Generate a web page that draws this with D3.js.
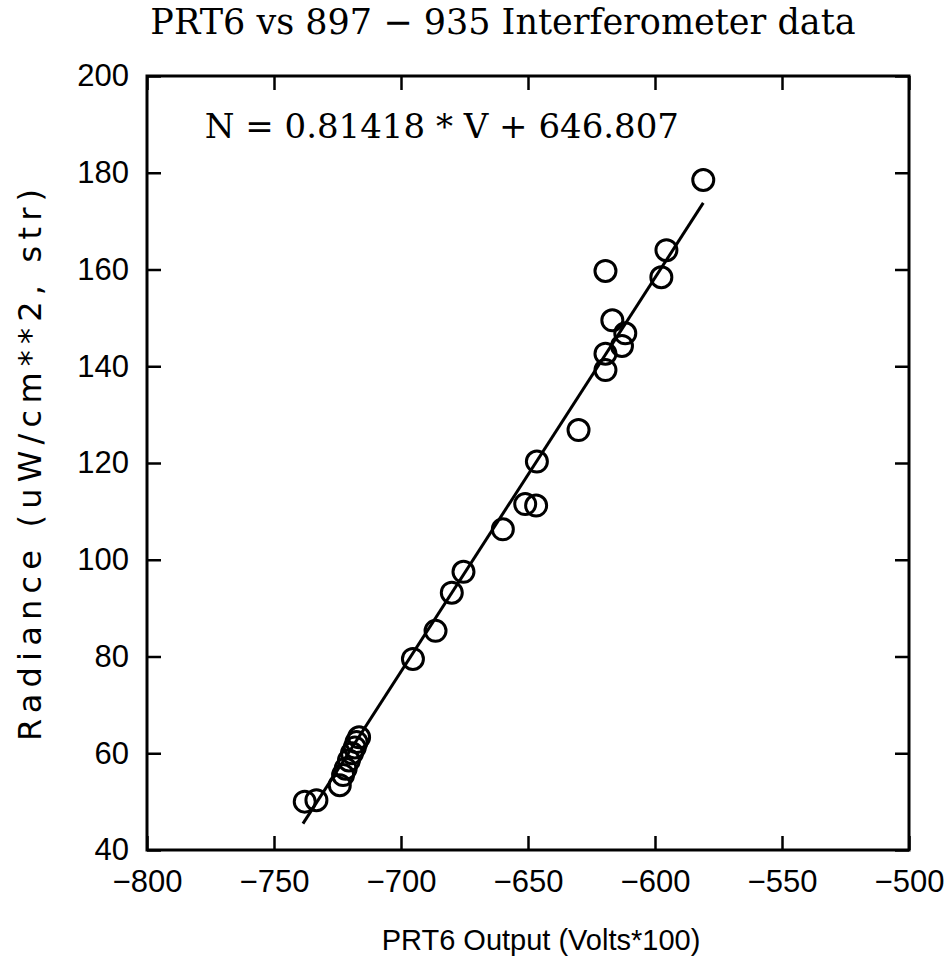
<!DOCTYPE html>
<html>
<head>
<meta charset="utf-8">
<script src="https://cdn.jsdelivr.net/npm/d3@7"></script>
<style>
  body { margin: 0; background: #fff; }
  .tick text { font-family: "Liberation Sans", Arial, sans-serif; font-size: 31px; fill: #000; }
</style>
</head>
<body>
<svg width="949" height="965"></svg>
<script>
// PRT6 output (Volts*100) and interferometer radiance
const voltage = [-581, -595.5, -597.5, -619.5, -616.8, -611.7, -613.0, -619.5, -619.5,
  -630.1, -646.5, -651.1, -646.8, -659.9, -675.4, -680.0, -686.4, -695.3,
  -716.5, -717.5, -718.2, -719.3, -720.5, -721.8, -722.8, -724.1, -733.3, -737.9];
const radiance = [178.5, 164, 158.4, 159.7, 149.5, 146.8, 144.2, 142.6, 139.2,
  126.8, 120.3, 111.5, 111.2, 106.3, 97.5, 93.2, 85.3, 79.5,
  63.3, 62.3, 61.2, 60.0, 58.5, 56.8, 55.5, 53.4, 50.3, 50.0];

// least squares fit printed on the chart
const slope = 0.81418, intercept = 646.807;
const fitRange = [-738.6, -581];

const xTicks = [-800, -750, -700, -650, -600, -550, -500];
const yTicks = [40, 60, 80, 100, 120, 140, 160, 180, 200];

const svg = d3.select("svg"),
      margin = { top: 76, right: 40, bottom: 115, left: 147 },
      width = +svg.attr("width") - margin.left - margin.right,
      height = +svg.attr("height") - margin.top - margin.bottom;

const chart = svg.append("g")
  .attr("transform", `translate(${margin.left},${margin.top})`);

const x = d3.scaleLinear().domain([-800, -500]).range([0, width]);
const y = d3.scaleLinear().domain([40, 200]).range([height, 0]);

const fmt = d3.format("d");

// axes with inward ticks
chart.append("g")
  .attr("transform", `translate(0,${height})`)
  .call(d3.axisBottom(x).tickValues(xTicks).tickFormat(d => fmt(d).replace("-", "\u2212"))
    .tickSizeInner(-14).tickSizeOuter(0).tickPadding(20));

chart.append("g")
  .call(d3.axisLeft(y).tickValues(yTicks).tickFormat(fmt)
    .tickSizeInner(-14).tickSizeOuter(0).tickPadding(18));

chart.append("g")
  .call(d3.axisTop(x).tickValues(xTicks).tickFormat("")
    .tickSizeInner(-14).tickSizeOuter(0));

chart.append("g")
  .attr("transform", `translate(${width},0)`)
  .call(d3.axisRight(y).tickValues(yTicks).tickFormat("")
    .tickSizeInner(-14).tickSizeOuter(0));

chart.selectAll(".domain").remove();
chart.selectAll(".tick line").attr("stroke", "#000").attr("stroke-width", 2.5);

chart.append("rect")
  .attr("width", width)
  .attr("height", height)
  .attr("fill", "none")
  .attr("stroke", "#000")
  .attr("stroke-width", 3);

// fit line
chart.append("line")
  .attr("x1", x(fitRange[0]))
  .attr("y1", y(slope * fitRange[0] + intercept))
  .attr("x2", x(fitRange[1]))
  .attr("y2", y(slope * fitRange[1] + intercept))
  .attr("stroke", "#000")
  .attr("stroke-width", 3);

// data circles
chart.selectAll(".pt")
  .data(voltage.map((v, i) => [v, radiance[i]]))
  .enter().append("circle")
  .attr("class", "pt")
  .attr("cx", d => x(d[0]))
  .attr("cy", d => y(d[1]))
  .attr("r", 10.5)
  .attr("fill", "none")
  .attr("stroke", "#000")
  .attr("stroke-width", 3);

// texts
svg.append("text")
  .attr("x", 503)
  .attr("y", 34)
  .attr("text-anchor", "middle")
  .style("font-family", "'DejaVu Serif', serif")
  .style("font-size", "35px")
  .text("PRT6 vs 897 \u2212 935 Interferometer data");

chart.append("text")
  .attr("x", x(-777.3))
  .attr("y", 62)
  .style("font-family", "'DejaVu Serif', serif")
  .style("font-size", "34px")
  .text("N = 0.81418 * V + 646.807");

svg.append("text")
  .attr("x", 541)
  .attr("y", 950)
  .attr("text-anchor", "middle")
  .style("font-family", "'Liberation Sans', Arial, sans-serif")
  .style("font-size", "29px")
  .text("PRT6 Output (Volts*100)");

svg.append("text")
  .attr("transform", "rotate(-90)")
  .attr("x", -465)
  .attr("y", 41)
  .attr("text-anchor", "middle")
  .attr("textLength", 552)
  .attr("lengthAdjust", "spacing")
  .style("font-family", "'DejaVu Sans', sans-serif")
  .style("font-size", "32px")
  .text("Radiance (uW/cm**2, str)");
</script>
</body>
</html>
